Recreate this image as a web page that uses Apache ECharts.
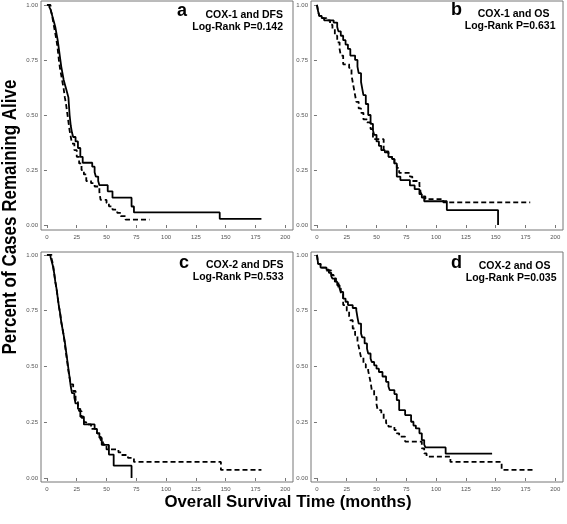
<!DOCTYPE html>
<html>
<head>
<meta charset="utf-8">
<script src="https://cdn.jsdelivr.net/npm/echarts@6/dist/echarts.min.js"></script>
<style>
html,body{margin:0;padding:0;background:#fff;}
#chart{width:567px;height:524px;}
</style>
</head>
<body>
<div id="chart"></div>
<script>
// ---- data: Kaplan-Meier steps [time (months), survival after drop] ----
var xTicks = [0, 25, 50, 75, 100, 125, 150, 175, 200];
var yTicks = [0, 0.25, 0.5, 0.75, 1];

var panelLetters = ['a', 'b', 'c', 'd'];
var panelTitles = ['COX-1 and DFS', 'COX-1 and OS', 'COX-2 and DFS', 'COX-2 and OS'];
var panelPValues = ['Log-Rank P=0.142', 'Log-Rank P=0.631', 'Log-Rank P=0.533', 'Log-Rank P=0.035'];

var aSolid = [[0,1],[2,0.99],[3,0.98],[4,0.96],[5,0.94],[6,0.92],[7,0.9],[8,0.87],[9,0.84],[10,0.8],[11,0.76],[12,0.72],[13,0.69],[14,0.66],[15,0.64],[16,0.62],[17,0.6],[18,0.58],[19,0.5],[20,0.45],[21,0.42],[22,0.4],[24,0.38],[26,0.35],[28,0.31],[30,0.283],[38,0.265],[40,0.24],[41,0.22],[43,0.2],[44,0.181],[51,0.153],[55,0.124],[71,0.084],[73,0.057],[145,0.028],[180,0.028]];
var aDashed = [[0,1],[3,0.98],[4,0.96],[5,0.93],[6,0.9],[7,0.87],[8,0.84],[9,0.8],[10,0.75],[11,0.71],[12,0.68],[13,0.65],[14,0.62],[15,0.58],[16,0.55],[17,0.51],[18,0.47],[19,0.43],[20,0.4],[21,0.37],[23,0.34],[25,0.31],[27,0.28],[29,0.25],[31,0.23],[33,0.2],[37,0.19],[40,0.175],[44,0.15],[45,0.114],[50,0.1],[52,0.085],[55,0.07],[59,0.055],[62,0.04],[66,0.024],[86,0.024]];

var bSolid = [[0,1],[1,0.97],[2,0.95],[4,0.94],[6,0.93],[14,0.92],[17,0.9],[18,0.88],[20,0.86],[22,0.84],[24,0.82],[26,0.8],[28,0.77],[32,0.75],[34,0.72],[35,0.69],[37,0.65],[38,0.62],[39,0.59],[41,0.55],[43,0.5],[45,0.46],[47,0.43],[48,0.41],[50,0.38],[52,0.36],[54,0.34],[57,0.33],[60,0.31],[63,0.3],[65,0.28],[67,0.22],[70,0.204],[78,0.18],[82,0.163],[86,0.14],[88,0.125],[90,0.108],[109,0.068],[152,0]];
var bDashed = [[0,1],[1,0.97],[2,0.95],[4,0.94],[8,0.93],[11,0.91],[13,0.89],[15,0.86],[17,0.83],[19,0.8],[20,0.77],[22,0.73],[27,0.714],[29,0.68],[30,0.65],[31,0.62],[32,0.59],[33,0.56],[35,0.53],[37,0.51],[39,0.48],[42,0.466],[45,0.436],[47,0.39],[56,0.334],[60,0.31],[63,0.3],[65,0.28],[67,0.26],[69,0.237],[78,0.22],[80,0.2],[86,0.18],[87,0.15],[88,0.13],[91,0.118],[106,0.103],[179,0.103]];

var cSolid = [[0,1],[3,0.99],[4,0.97],[5,0.95],[6,0.92],[7,0.88],[8,0.85],[9,0.81],[10,0.77],[11,0.74],[12,0.7],[13,0.67],[14,0.64],[15,0.61],[16,0.57],[17,0.53],[18,0.49],[19,0.45],[20,0.41],[21,0.38],[23,0.36],[24,0.334],[26,0.31],[28,0.275],[31,0.24],[40,0.22],[42,0.2],[44,0.18],[46,0.148],[52,0.105],[56,0.055],[71,0]];
var cDashed = [[0,1],[4,0.98],[5,0.96],[6,0.92],[7,0.88],[8,0.85],[9,0.81],[10,0.77],[11,0.74],[12,0.7],[13,0.67],[14,0.64],[15,0.6],[16,0.56],[17,0.52],[18,0.48],[19,0.45],[20,0.42],[22,0.39],[24,0.35],[26,0.32],[27,0.3],[29,0.27],[31,0.25],[33,0.24],[37,0.22],[42,0.2],[45,0.17],[47,0.15],[50,0.128],[60,0.115],[63,0.103],[68,0.09],[73,0.072],[146,0.036],[180,0.036]];

var dSolid = [[0,1],[1,0.96],[3,0.943],[8,0.934],[10,0.92],[12,0.905],[13,0.894],[15,0.88],[17,0.864],[19,0.85],[20,0.834],[22,0.804],[24,0.79],[26,0.775],[30,0.762],[33,0.752],[34,0.72],[35,0.692],[37,0.648],[38,0.63],[40,0.603],[42,0.58],[43,0.558],[45,0.535],[46,0.52],[48,0.505],[50,0.49],[52,0.475],[55,0.455],[58,0.431],[60,0.41],[61,0.394],[65,0.376],[67,0.349],[69,0.304],[74,0.282],[79,0.252],[81,0.235],[83,0.222],[86,0.2],[88,0.17],[90,0.15],[91,0.137],[108,0.109],[147,0.109]];
var dDashed = [[0,1],[1,0.96],[3,0.943],[8,0.93],[12,0.91],[14,0.895],[16,0.88],[18,0.85],[20,0.827],[22,0.775],[25,0.75],[27,0.725],[28,0.707],[30,0.67],[32,0.64],[34,0.61],[35,0.59],[36,0.565],[37,0.54],[39,0.51],[41,0.49],[43,0.48],[44,0.455],[45,0.43],[46,0.394],[48,0.364],[50,0.33],[51,0.304],[54,0.29],[56,0.265],[58,0.245],[60,0.23],[65,0.215],[67,0.2],[69,0.185],[74,0.163],[88,0.133],[90,0.11],[92,0.096],[112,0.072],[155,0.036],[182,0.036]];

var solidCurves = [aSolid, bSolid, cSolid, dSolid];
var dashedCurves = [aDashed, bDashed, cDashed, dDashed];

// ---- layout ----
var grids = [
  {left: 41, top: 1, width: 252, height: 229},
  {left: 311, top: 1, width: 252, height: 229},
  {left: 41, top: 252, width: 252, height: 230},
  {left: 311, top: 252, width: 252, height: 230}
];
var yRanges = [[-0.0227, 1.018], [-0.0227, 1.018], [-0.018, 1.013], [-0.018, 1.013]];

var FONT = 'Liberation Sans, Arial, sans-serif';

var option = {
  animation: false,
  backgroundColor: '#fff',
  grid: grids.map(function (g) {
    return Object.assign({show: true, borderColor: '#777', borderWidth: 1, backgroundColor: '#fff', outerBoundsMode: 'none', containLabel: false}, g);
  }),
  xAxis: grids.map(function (g, i) {
    return {
      gridIndex: i, type: 'value', min: -5, max: 206.5,
      axisLine: {show: false},
      splitLine: {show: false},
      axisTick: {show: true, length: 3, customValues: xTicks, lineStyle: {color: '#777', width: 1}},
      axisLabel: {customValues: xTicks, fontSize: 6, color: '#555', margin: 4, fontFamily: FONT}
    };
  }),
  yAxis: grids.map(function (g, i) {
    return {
      gridIndex: i, type: 'value', min: yRanges[i][0], max: yRanges[i][1],
      axisLine: {show: false},
      splitLine: {show: false},
      axisTick: {show: true, length: 3, customValues: yTicks, lineStyle: {color: '#777', width: 1}},
      axisLabel: {customValues: yTicks, fontSize: 6, color: '#555', margin: 3, fontFamily: FONT,
        formatter: function (v) { return v.toFixed(2); }}
    };
  }),
  series: [],
  graphic: []
};

for (var i = 0; i < 4; i++) {
  option.series.push({
    type: 'line', xAxisIndex: i, yAxisIndex: i, data: solidCurves[i], step: 'end',
    showSymbol: false, symbol: 'none', silent: true,
    lineStyle: {color: '#000', width: 1.8, type: 'solid'}
  });
  option.series.push({
    type: 'line', xAxisIndex: i, yAxisIndex: i, data: dashedCurves[i], step: 'end',
    showSymbol: false, symbol: 'none', silent: true,
    lineStyle: {color: '#000', width: 1.8, type: [5, 3]}
  });
}

// panel annotations
var letterPos = [[182, 20], [456.5, 19.5], [184, 272], [456.5, 272]];
var line1Pos = [[283, 15], [549.5, 14.5], [283.5, 265], [550.5, 266]];
var line2Pos = [[283, 27], [555.5, 26.5], [283.5, 277], [556.5, 278]];
for (var j = 0; j < 4; j++) {
  option.graphic.push({type: 'text', x: letterPos[j][0], y: letterPos[j][1],
    style: {text: panelLetters[j], fill: '#000', fontFamily: FONT, fontWeight: 'bold', fontSize: 18, textAlign: 'center', textVerticalAlign: 'bottom'}});
  option.graphic.push({type: 'text', x: line1Pos[j][0], y: line1Pos[j][1],
    style: {text: panelTitles[j], fill: '#000', fontFamily: FONT, fontWeight: 'bold', fontSize: 10.5, textAlign: 'right', textVerticalAlign: 'middle'}});
  option.graphic.push({type: 'text', x: line2Pos[j][0], y: line2Pos[j][1],
    style: {text: panelPValues[j], fill: '#000', fontFamily: FONT, fontWeight: 'bold', fontSize: 10.5, textAlign: 'right', textVerticalAlign: 'middle'}});
}
// axis titles
option.graphic.push({type: 'text', x: 10.5, y: 217, rotation: Math.PI / 2, scaleY: 1.15,
  style: {text: 'Percent of Cases Remaining Alive', fill: '#000', fontFamily: FONT, fontWeight: 'bold', fontSize: 17, textAlign: 'center', textVerticalAlign: 'middle'}});
option.graphic.push({type: 'text', x: 288, y: 503, scaleX: 1.05,
  style: {text: 'Overall Survival Time (months)', fill: '#000', fontFamily: FONT, fontWeight: 'bold', fontSize: 16, textAlign: 'center', textVerticalAlign: 'middle'}});

var chart = echarts.init(document.getElementById('chart'), null, {renderer: 'canvas'});
chart.setOption(option);
</script>
</body>
</html>
